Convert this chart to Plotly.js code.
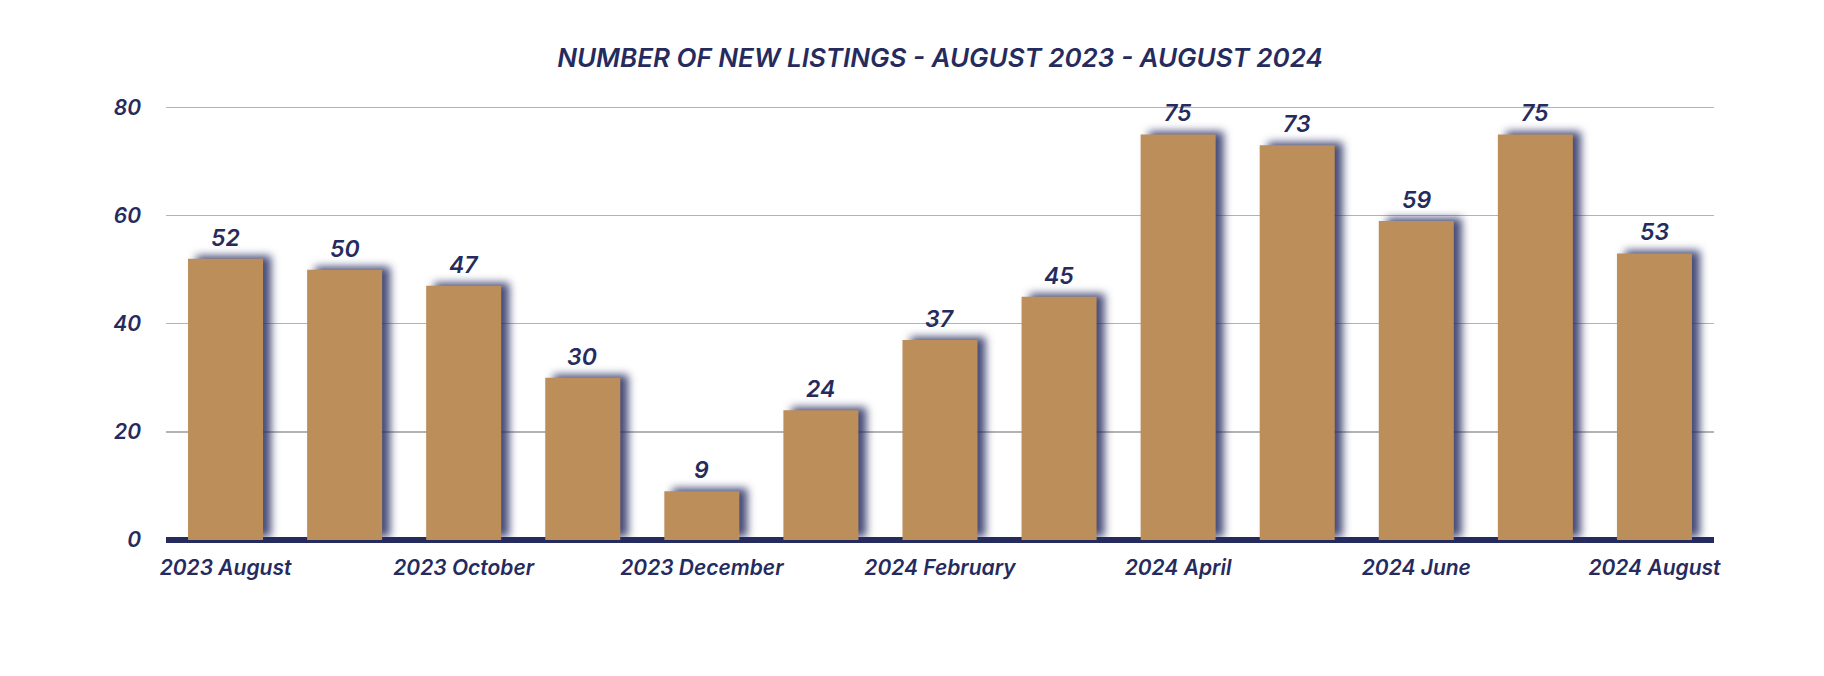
<!DOCTYPE html>
<html>
<head>
<meta charset="utf-8">
<script src="https://cdn.plot.ly/plotly-3.0.1.min.js"></script>
<style>
  html, body { margin: 0; padding: 0; background: #ffffff; }
  #chart { width: 1824px; height: 676px; }
  .trace.bars .point path { filter: drop-shadow(8px -3px 4px rgba(38, 44, 96, 0.85)); }
</style>
</head>
<body>
<div id="chart"></div>
<script>
const categories = ['2023 August', '2023 September', '2023 October', '2023 November', '2023 December',
  '2024 January', '2024 February', '2024 March', '2024 April', '2024 May', '2024 June', '2024 July', '2024 August'];
const newListings = [52, 50, 47, 30, 9, 24, 37, 45, 75, 73, 59, 75, 53];
const xTickLabels = ['2023 August', '2023 October', '2023 December', '2024 February', '2024 April', '2024 June', '2024 August'];
const yTickValues = [0, 20, 40, 60, 80];
const chartTitle = 'NUMBER OF NEW LISTINGS - AUGUST 2023 - AUGUST 2024';

const navy = '#262b5e';
const fontFamily = 'Inter, Lato, sans-serif';

const trace = {
  type: 'bar',
  x: categories,
  y: newListings,
  marker: { color: '#bc8e5a', line: { width: 0 } },
  hoverinfo: 'x+y'
};

const annotations = categories.map((c, i) => ({
  x: c, y: newListings[i], xref: 'x', yref: 'y',
  text: String(newListings[i]), showarrow: false,
  yanchor: 'bottom', yshift: 5,
  font: { family: fontFamily, size: 23, color: navy, weight: 600, style: 'italic' }
}));

const layout = {
  width: 1824, height: 676,
  margin: { l: 166, r: 110, t: 102, b: 136 },
  paper_bgcolor: '#ffffff', plot_bgcolor: '#ffffff',
  bargap: 0.37,
  showlegend: false,
  title: {
    text: chartTitle,
    x: 0.5, xref: 'paper', xanchor: 'center',
    y: 1 - 58 / 676, yref: 'container', yanchor: 'middle',
    font: { family: fontFamily, size: 26, color: navy, weight: 600, style: 'italic' }
  },
  xaxis: {
    type: 'category',
    tickvals: xTickLabels, ticktext: xTickLabels,
    showgrid: false, zeroline: false, showline: false,
    ticks: '', ticklabelstandoff: 13,
    tickfont: { family: fontFamily, size: 21, color: navy, weight: 600, style: 'italic' },
    fixedrange: true
  },
  yaxis: {
    range: [0, 81],
    tickvals: yTickValues,
    showgrid: true, gridcolor: '#b3b3b3', gridwidth: 1.5,
    zeroline: true, zerolinecolor: navy, zerolinewidth: 6,
    showline: false, ticks: '', ticklabelstandoff: 24,
    tickfont: { family: fontFamily, size: 21, color: navy, weight: 600, style: 'italic' },
    fixedrange: true
  },
  annotations: annotations
};

Plotly.newPlot('chart', [trace], layout, { displayModeBar: false, staticPlot: true });
</script>
</body>
</html>
